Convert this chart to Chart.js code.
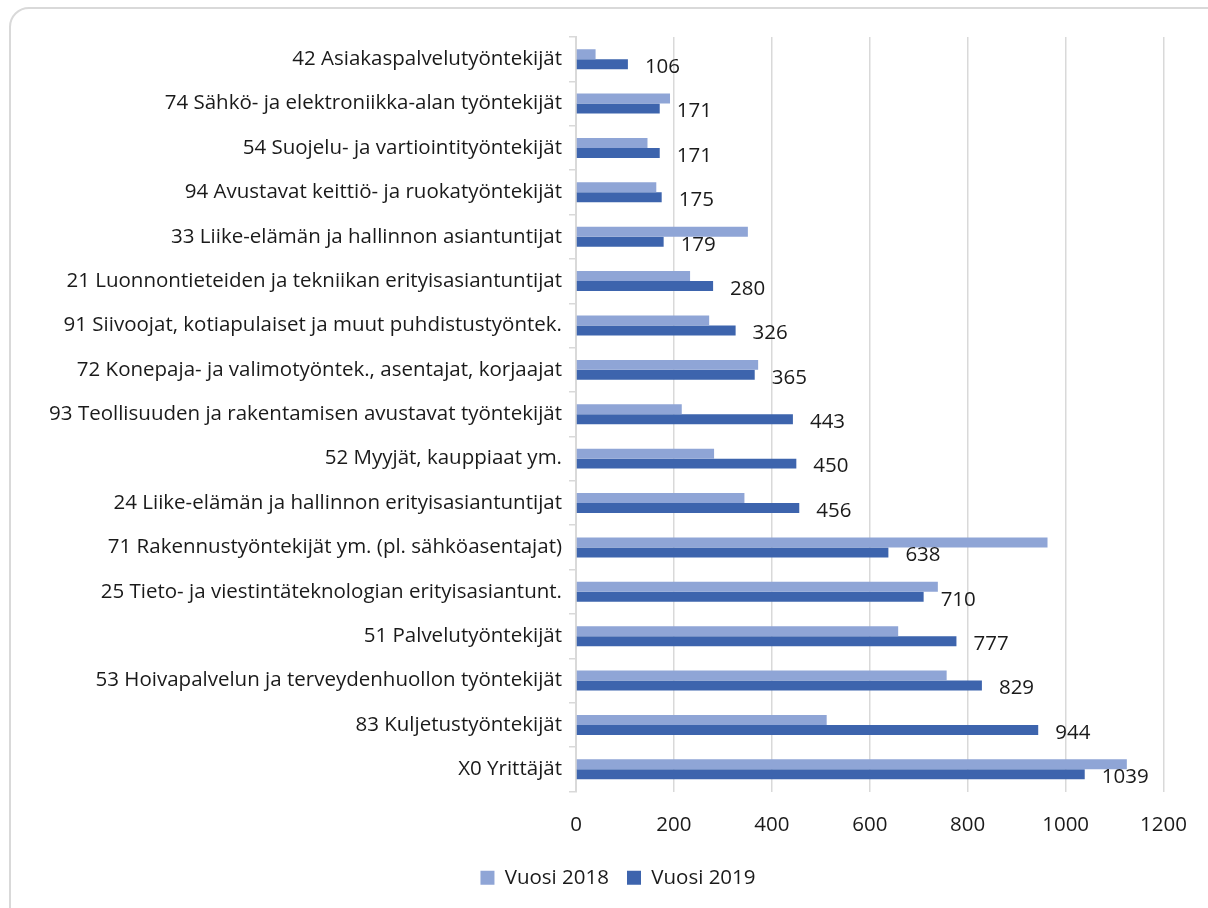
<!DOCTYPE html>
<html lang="fi">
<head>
<meta charset="utf-8">
<title>Ammattiryhmät 2018–2019</title>
<script src="https://cdn.jsdelivr.net/npm/chart.js"></script>
<style>
html,body{margin:0;width:1208px;height:908px;overflow:hidden;background:#fff;
  font-family:"Open Sans",sans-serif}
#frame{position:absolute;left:9px;top:7px;width:1230px;height:940px;
  border:2px solid #d9d9d9;border-radius:20px;box-sizing:border-box}
#wrap{position:absolute;left:0;top:0;width:1208px;height:908px}
</style>
</head>
<body>
<div id="frame"></div>
<div id="wrap"><canvas id="c"></canvas></div>

<script>
/* ---------- data ---------- */
const LABELS = [
  '42 Asiakaspalvelutyöntekijät',
  '74 Sähkö- ja elektroniikka-alan työntekijät',
  '54 Suojelu- ja vartiointityöntekijät',
  '94 Avustavat keittiö- ja ruokatyöntekijät',
  '33 Liike-elämän ja hallinnon asiantuntijat',
  '21 Luonnontieteiden ja tekniikan erityisasiantuntijat',
  '91 Siivoojat, kotiapulaiset ja muut puhdistustyöntek.',
  '72 Konepaja- ja valimotyöntek., asentajat, korjaajat',
  '93 Teollisuuden ja rakentamisen avustavat työntekijät',
  '52 Myyjät, kauppiaat ym.',
  '24 Liike-elämän ja hallinnon erityisasiantuntijat',
  '71 Rakennustyöntekijät ym. (pl. sähköasentajat)',
  '25 Tieto- ja viestintäteknologian erityisasiantunt.',
  '51 Palvelutyöntekijät',
  '53 Hoivapalvelun ja terveydenhuollon työntekijät',
  '83 Kuljetustyöntekijät',
  'X0 Yrittäjät'
];
const V2018 = [40,192,146,164,351,233,272,372,216,282,344,963,739,658,757,512,1125];
const V2019 = [106,171,171,175,179,280,326,365,443,450,456,638,710,777,829,944,1039];
const SERIES = ['Vuosi 2018','Vuosi 2019'];

const C_LIGHT = '#8fa5d6';
const C_DARK  = '#3d64ad';
const GRID    = '#d9d9d9';
const TXT     = '#1a1a1a';
const FONT    = '"Open Sans"';

/* arvot 2019-palkkien perään */
const valueLabels = {
  id:'valueLabels',
  afterDatasetsDraw(chart){
    const {ctx} = chart;
    const meta = chart.getDatasetMeta(1);
    ctx.save();
    ctx.font = '20.5px ' + FONT;
    ctx.fillStyle = TXT;
    ctx.textAlign = 'left';
    ctx.textBaseline = 'middle';
    meta.data.forEach((el,i)=>{
      ctx.fillText(String(V2019[i]), el.x + 17, el.y + 3);
    });
    ctx.restore();
  }
};

/* selite hieman oikealle, kuten alkuperäisessä */
const legendShift = {
  id:'legendShift',
  afterUpdate(chart){
    const lg = chart.legend;
    if(!lg) return;
    lg.left += 62;
    lg.adjustHitBoxes();
  }
};

new Chart(document.getElementById('c'), {
  type:'bar',
  data:{
    labels:LABELS,
    datasets:[
      {label:SERIES[0],data:V2018,backgroundColor:C_LIGHT},
      {label:SERIES[1],data:V2019,backgroundColor:C_DARK}
    ]
  },
  options:{
    indexAxis:'y',
    responsive:true,maintainAspectRatio:false,animation:false,
    categoryPercentage:0.45,barPercentage:1.0,
    layout:{padding:{left:10,top:37,right:44,bottom:10}},
    scales:{
      x:{
        min:0,max:1200,
        ticks:{stepSize:200,color:TXT,font:{size:20.5,family:FONT},padding:21,
          callback:v=>String(v)},
        grid:{color:GRID,lineWidth:1.5,drawTicks:false},
        border:{display:false},
        afterFit(s){ s.height = 58; }
      },
      y:{
        ticks:{color:TXT,font:{size:20.5,family:FONT},padding:7},
        grid:{display:true,drawOnChartArea:false,drawTicks:true,tickLength:7,color:GRID,lineWidth:1.5},
        border:{display:true,color:GRID,width:2},
        afterFit(s){ s.width = 566; }
      }
    },
    plugins:{
      legend:{
        position:'bottom',
        labels:{boxWidth:14,boxHeight:14,padding:18,color:TXT,
          font:{size:20.5,family:FONT}}
      },
      tooltip:{enabled:false}
    }
  },
  plugins:[valueLabels,legendShift]
});
</script>
</body>
</html>
